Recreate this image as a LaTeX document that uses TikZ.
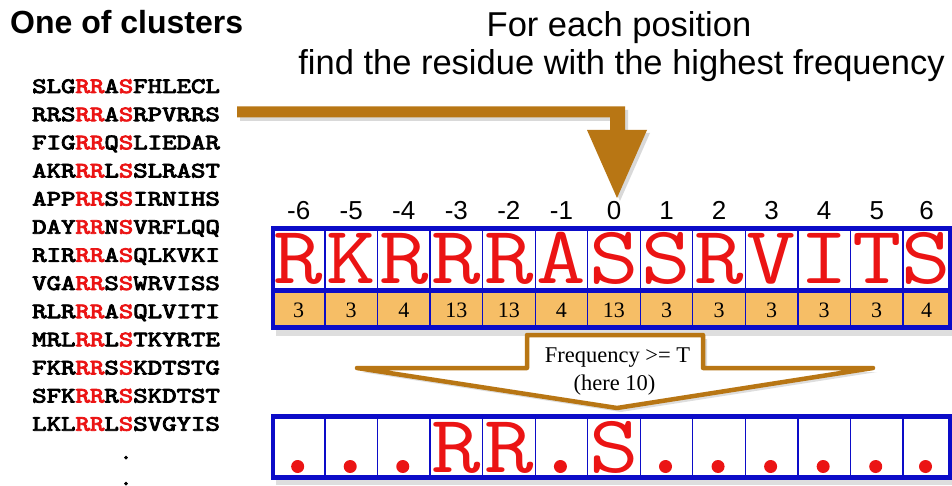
\documentclass[tikz,border=0pt]{standalone}
\usepackage{fontspec}
\setmainfont{Liberation Serif}
\newfontfamily\arialf{Liberation Sans}
\newfontfamily\courbold{lmmono10-regular.otf}[FakeBold=3.5]
\definecolor{brownA}{RGB}{184,118,20}
\definecolor{blueA}{RGB}{12,12,200}
\definecolor{orangeA}{RGB}{246,190,102}
\definecolor{redA}{RGB}{235,20,20}
\newcommand{\seqbox}[1]{\scalebox{1.25}[1]{#1}}
\newcommand{\bigbox}[1]{\scalebox{1.17}[1]{#1}}
\begin{document}
\begin{tikzpicture}[x=1pt,y=-1pt,
  seqtxt/.style={anchor=base west, inner sep=0pt, font=\courbold\fontsize{22}{22}\selectfont},
  lbl/.style={anchor=base, inner sep=0pt, font=\arialf\fontsize{26}{26}\selectfont},
  big/.style={anchor=base, inner sep=0pt, text=redA, font=\ttfamily\fontsize{82}{82}\selectfont},
  num/.style={anchor=base, inner sep=0pt, font=\fontsize{22}{22}\selectfont},
  cellline/.style={draw=blueA, line width=1.3pt},
  frame/.style={draw=blueA, line width=4pt},
  shadowfill/.style={fill=black, opacity=0.13},
  reddot/.style={circle, fill=redA, minimum size=13pt, inner sep=0pt}]
\useasboundingbox (0,0) rectangle (952,486);
\fill[white] (0,0) rectangle (952,486);

% title and heading
\node[anchor=base west, inner sep=0pt, font=\arialf\bfseries\fontsize{32}{32}\selectfont] (title) at (10,33.5) {One of clusters};
\node[anchor=base, inner sep=0pt, font=\arialf\fontsize{34.5}{34.5}\selectfont] (h1) at (619,37) {For each position};
\node[anchor=base, inner sep=0pt, font=\arialf\fontsize{34.5}{34.5}\selectfont] (h2) at (621.5,75) {find the residue with the highest frequency};

% sequences
\foreach \p/\m/\s [count=\i from 0] in {SLG/A/FHLECL, RRS/A/RPVRRS, FIG/Q/LIEDAR, AKR/L/SLRAST, APP/S/IRNIHS, DAY/N/VRFLQQ, RIR/A/QLKVKI, VGA/S/WRVISS, RLR/A/QLVITI, MRL/L/TKYRTE, FKR/S/KDTSTG, SFK/R/SKDTST, LKL/L/SVGYIS}
  \node[seqtxt] (seq\i) at (32,{93+28.14*\i}) {\seqbox{\p\textcolor{redA}{RR}\m\textcolor{redA}{S}\s}};
\node[seqtxt, anchor=base] (dotA) at (126,459) {.};
\node[seqtxt, anchor=base] (dotB) at (126,485) {.};

% big brown arrow
\fill[black, opacity=0.15] (240,110) -- (628,110) -- (628,133) -- (650,133) -- (620,201) -- (590,133) -- (613,133) -- (613,121) -- (240,121) -- cycle;
\fill[brownA] (237,106.5) -- (625,106.5) -- (625,130) -- (647,130) -- (617,198) -- (587,130) -- (610,130) -- (610,117.5) -- (237,117.5) -- cycle;

% top table
\fill[shadowfill] (276,233) rectangle (956,336);
\foreach \L/\N/\P [count=\k from 0] in {R/3/-6,K/3/-5,R/4/-4,R/13/-3,R/13/-2,A/4/-1,S/13/0,S/3/1,R/3/2,V/3/3,I/3/4,T/3/5,S/4/6} {
  \pgfmathsetmacro\xa{272.4+52.55*\k}
  \pgfmathsetmacro\xb{min(272.4+52.55*(\k+1),950)}
  \pgfmathsetmacro\xc{(\xa+\xb)/2}
  \draw[cellline, fill=white] (\xa,230) rectangle (\xb,289);
  \draw[cellline, fill=orangeA] (\xa,292) rectangle (\xb,326);
  \node[lbl] (p\k) at (\xc,219.5) {\P};
  \node[big] (r\k) at (\xc,283) {\bigbox{\L}};
  \node[num] (n\k) at (\xc,317.5) {\N};
}
\draw[frame] (272.5,228) rectangle (950,328);
\draw[frame] (272.5,290.5) -- (950,290.5);

% frequency arrow
\fill[black, opacity=0.13] (531,339) -- (707,339) -- (707,372) -- (877,372) -- (621,412) -- (361,372) -- (531,372) -- cycle;
\draw[draw=brownA, line width=4.5pt, fill=white, line join=round] (527,335) -- (703,335) -- (703,368) -- (873,368) -- (617,408) -- (357,368) -- (527,368) -- cycle;
\node[anchor=base, inner sep=0pt, font=\fontsize{22.5}{22.5}\selectfont] (fq1) at (617.5,362) {Frequency >= T};
\node[anchor=base, inner sep=0pt, font=\fontsize{22.5}{22.5}\selectfont] (fq2) at (614.5,390) {(here 10)};

% bottom table
\fill[shadowfill] (276,421) rectangle (956,485);
\foreach \k in {0,...,12} {
  \pgfmathsetmacro\xa{272.4+52.55*\k}
  \pgfmathsetmacro\xb{min(272.4+52.55*(\k+1),950)}
  \draw[cellline, fill=white] (\xa,418) rectangle (\xb,476);
}
\foreach \k in {0,1,2,5,7,8,9,10,11,12} {
  \pgfmathsetmacro\xa{272.4+52.55*\k}
  \pgfmathsetmacro\xb{min(272.4+52.55*(\k+1),950)}
  \node[reddot] (d\k) at ({(\xa+\xb)/2-1},466.5) {};
}
\foreach \k/\L in {3/R,4/R,6/S} {
  \pgfmathsetmacro\xc{272.4+52.55*\k+26.27}
  \node[big] (b\k) at (\xc,472) {\bigbox{\L}};
}
\draw[frame] (272.5,416) rectangle (950,478);
\end{tikzpicture}
\end{document}
